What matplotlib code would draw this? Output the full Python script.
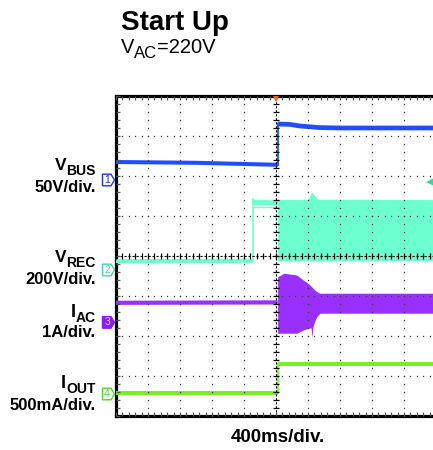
import numpy as np
import matplotlib
matplotlib.use('Agg')
import matplotlib.pyplot as plt
from matplotlib.patches import Polygon
from matplotlib.transforms import IdentityTransform

plt.rcParams['font.family'] = ['Liberation Sans', 'DejaVu Sans']

# ---------------- data (time in ms, vertical in screen divisions) ----------------
t_min, t_max = -2000, 2000          # 400 ms/div, 10 divisions
ms_per_div = 400

# Channel 1: V_BUS (50 V/div)
vbus_pre_t = [-2000, -1000, 20]
vbus_pre_y = [2.35, 2.33, 2.28]
vbus_post_t = [20, 175, 300, 550, 800, 2000]
vbus_post_y = [3.30, 3.29, 3.25, 3.21, 3.20, 3.20]

# Channel 2: V_REC (200 V/div)
vrec_pre_t = [-2000, -290]
vrec_pre_y = [-0.13, -0.12]
vrec_mid_t = [-290, 20]
vrec_mid_top = [1.42, 1.40]
vrec_mid_bot = [1.28, 1.28]
vrec_mid_line = [1.22, 1.22]
vrec_post_t = [20, 300, 400, 430, 450, 480, 520, 2000]
vrec_post_top = [1.42, 1.41, 1.42, 1.55, 1.60, 1.52, 1.42, 1.41]
vrec_post_bot = [-0.12, -0.12, -0.11, -0.12, -0.12, -0.11, -0.12, -0.11]

# Channel 3: I_AC (1 A/div)
iac_pre_t = [-2000, 20]
iac_pre_y = [-1.17, -1.16]
iac_post_t = [20, 100, 260, 340, 385, 425, 440, 450, 460, 490, 510, 550, 2000]
iac_post_top = [-0.52, -0.43, -0.475, -0.60, -0.66, -0.725, -0.76, -0.78, -0.80, -0.86, -0.89, -0.93, -0.93]
iac_post_bot = [-1.93, -1.93, -1.93, -1.85, -1.82, -1.80, -1.80, -2.05, -1.78, -1.60, -1.52, -1.43, -1.43]

# Channel 4: I_OUT (500 mA/div)
iout_pre_t = [-2000, 20]
iout_pre_y = [-3.43, -3.43]
iout_post_t = [20, 2000]
iout_post_y = [-2.70, -2.70]

# channel ground markers (divisions) and labels
ch_numbers = ['1', '2', '3', '4']
ch_levels = [1.90, -0.35, -1.66, -3.45]
trigger_level = 1.84

title = 'Start Up'
time_label = '400ms/div.'

# ---------------- figure ----------------
W, H = 433, 450
fig = plt.figure(figsize=(W / 100, H / 100), dpi=100)
fig.patch.set_facecolor('white')
ax = fig.add_axes([116 / W, 34 / H, 320 / W, 320 / H])
ax.set_xlim(t_min, t_max)
ax.set_ylim(-4, 4)
ax.set_xticks([])
ax.set_yticks([])
for s in ['left', 'top', 'bottom']:
    ax.spines[s].set_linewidth(2.3)
    ax.spines[s].set_color('black')
ax.spines['right'].set_visible(False)

BLUE = '#1f4dff'
CYAN = '#6dffd0'
PURPLE = '#9a30ff'
GREEN = '#72f020'

# ---- traces ----
ax.plot(vbus_pre_t, vbus_pre_y, color=BLUE, lw=2.9, solid_capstyle='butt', zorder=3)
ax.plot(vbus_post_t, vbus_post_y, color=BLUE, lw=3.4, solid_capstyle='butt', zorder=3)
ax.plot([vbus_pre_t[-1], vbus_post_t[0]], [vbus_pre_y[-1], vbus_post_y[0]], color=BLUE, lw=1.3, zorder=3)

ax.plot(vrec_pre_t, vrec_pre_y, color=CYAN, lw=3.0, solid_capstyle='butt', zorder=3)
ax.plot([vrec_pre_t[-1], vrec_mid_t[0]], [vrec_pre_y[-1], vrec_mid_top[0]], color=CYAN, lw=1.2, zorder=3)
ax.fill_between(vrec_mid_t, vrec_mid_bot, vrec_mid_top, color=CYAN, lw=0, zorder=3)
ax.plot(vrec_mid_t, vrec_mid_line, color=CYAN, lw=1.0, zorder=3)
ax.fill_between(vrec_post_t, vrec_post_bot, vrec_post_top, color=CYAN, lw=0, zorder=3)

ax.plot(iac_pre_t, iac_pre_y, color=PURPLE, lw=3.0, solid_capstyle='butt', zorder=3)
ax.fill_between(iac_post_t, iac_post_bot, iac_post_top, color=PURPLE, lw=0, zorder=3)

ax.plot(iout_pre_t, iout_pre_y, color=GREEN, lw=2.8, solid_capstyle='butt', zorder=3)
ax.plot(iout_post_t, iout_post_y, color=GREEN, lw=2.8, solid_capstyle='butt', zorder=3)
ax.plot([iout_pre_t[-1], iout_post_t[0]], [iout_pre_y[-1], iout_post_y[0]], color=GREEN, lw=1.2, zorder=3)

# ---- graticule ----
minor_t = np.arange(t_min, t_max + 1, ms_per_div / 5)
minor_y = np.arange(-4, 4.001, 0.2)
GRID = '#3a3a3a'
for gx in np.arange(t_min + ms_per_div, t_max, ms_per_div):
    if gx == 0:
        continue
    ax.plot(np.full_like(minor_y, gx), minor_y, ls='none', marker='s', ms=0.9,
            mew=0, color=GRID, zorder=5)
for gy in range(-3, 4):
    if gy == 0:
        continue
    ax.plot(minor_t, np.full_like(minor_t, gy, dtype=float), ls='none', marker='s', ms=0.9,
            mew=0, color=GRID, zorder=5)
# centre axes
ax.plot([0, 0], [-4, 4], color='black', lw=0.8, ls=(0, (2.0, 1.6)), zorder=6)
ax.plot(np.zeros_like(minor_y), minor_y, ls='none', marker='_', ms=4.5, mew=0.9, color='black', zorder=6)
ax.plot([t_min, t_max], [0, 0], color='black', lw=0.8, ls=(0, (2.0, 1.6)), zorder=6)
ax.plot(minor_t, np.zeros_like(minor_t, dtype=float), ls='none', marker='|', ms=4.5, mew=0.9, color='black', zorder=6)
# border ticks
ax.plot(minor_t, np.full_like(minor_t, 4, dtype=float), ls='none', marker=3, ms=3, mew=0.9, color='#555555', zorder=6)
ax.plot(minor_t, np.full_like(minor_t, -4, dtype=float), ls='none', marker=2, ms=3, mew=0.9, color='#555555', zorder=6)
ax.plot(np.full_like(minor_y, t_min), minor_y, ls='none', marker=1, ms=3, mew=0.9, color='#555555', zorder=6)

# trigger markers
ax.plot(0, 3.93, marker='v', ms=5, color='#ff5a1f', mew=0, clip_on=False, zorder=10)
ax.plot(1937, trigger_level, marker='<', ms=6.5, color='#3fd3a0', mew=0, clip_on=False, zorder=10)

# channel ground markers
ytr = ax.get_yaxis_transform()
marker_styles = [
    dict(ec='#2233dd', fc='white', tc='#2233dd'),
    dict(ec='#44d6a4', fc='white', tc='#44d6a4'),
    dict(ec='#8a1cff', fc='#8a1cff', tc='#e0c8ff'),
    dict(ec='#55d62a', fc='white', tc='#55d62a'),
]
x_l, x_r, x_tip = (102.5 - 116) / 320, (111 - 116) / 320, (114.5 - 116) / 320
for num, lvl, st in zip(ch_numbers, ch_levels, marker_styles):
    h = 0.145
    poly = Polygon([(x_l, lvl - h), (x_r, lvl - h), (x_tip, lvl), (x_r, lvl + h), (x_l, lvl + h)],
                   closed=True, transform=ytr, clip_on=False, fc=st['fc'], ec=st['ec'], lw=1.0, zorder=10)
    ax.add_patch(poly)
    ax.text((x_l + x_r) / 2 + 0.001, lvl, num, transform=ytr, ha='center', va='center',
            fontsize=7.5, color=st['tc'], clip_on=False, zorder=11)

# ---------------- text ----------------
fig.canvas.draw()
renderer = fig.canvas.get_renderer()


def rich(pieces, x, ha='left', weight='normal'):
    objs = []
    for s, size, base in pieces:
        t = fig.text(0, 0, s, fontsize=size, transform=IdentityTransform(),
                     va='baseline', ha='left', fontweight=weight, color='black')
        objs.append((t, base))
    widths = [t.get_window_extent(renderer).width for t, _ in objs]
    total = sum(widths)
    if ha == 'right':
        x0 = x - total
    elif ha == 'center':
        x0 = x - total / 2
    else:
        x0 = x
    for (t, base), w in zip(objs, widths):
        t.set_position((x0, H - base))
        x0 += w


rich([(title, 20, 29.5)], 121, weight='bold')
rich([('V', 14.5, 53.3), ('AC', 12, 58.3), ('=220V', 14.5, 53.3)], 121)

LX = 95.5
B = 'bold'
rich([('V', 12.5, 170), ('BUS', 10, 175)], LX, ha='right', weight=B)
rich([('50V/div.', 12, 191.7)], LX, ha='right', weight=B)
rich([('V', 12.5, 262.3), ('REC', 10, 267.3)], LX, ha='right', weight=B)
rich([('200V/div.', 12, 284.3)], LX, ha='right', weight=B)
rich([('I', 13, 316.7), ('AC', 10, 322.3)], LX, ha='right', weight=B)
rich([('1A/div.', 12, 336.7)], LX, ha='right', weight=B)
rich([('I', 13, 388.3), ('OUT', 10, 393.3)], LX, ha='right', weight=B)
rich([('500mA/div.', 12, 410)], LX, ha='right', weight=B)
rich([(time_label, 13.5, 442)], 277.5, ha='center', weight=B)

fig.savefig('out.png', dpi=100)
